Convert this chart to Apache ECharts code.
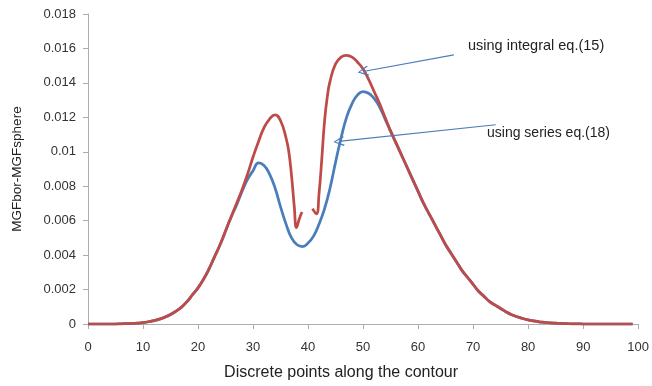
<!DOCTYPE html>
<html>
<head>
<meta charset="utf-8">
<script src="https://cdn.jsdelivr.net/npm/echarts@6/dist/echarts.min.js"></script>
<style>
html,body{margin:0;padding:0;background:#fff;}
#chart{width:652px;height:386px;}
</style>
</head>
<body>
<div id="chart"></div>
<script>
// x positions (discrete points) and values
const blueX = [0,1,2,3,4,5,6,7,8,9,10,11,12,13,14,15,16,17,18,19,20,21,22,23,24,25,26,27,28,29,30,31,32,33,34,35,36,37,38,39,40,41,42,43,44,45,46,47,48,49,50,51,52,53,54,55,56,57,58,59,60,61,62,63,64,65,66,67,68,69,70,71,72,73,74,75,76,77,78,79,80,81,82,83,84,85,86,87,88,89,90,91,92,93,94,95,96,97,98,99];
const blueY = [0,0,0,0,0,0,0.00001,0.00002,0.00003,0.00005,0.00008,0.00013,0.0002,0.00028,0.0004,0.00055,0.00075,0.00098,0.0013,0.0017,0.0021,0.0026,0.0032,0.0039,0.0046,0.0054,0.0062,0.0069,0.0077,0.0084,0.0089,0.00935,0.0092,0.0087,0.0079,0.0068,0.0058,0.0050,0.0046,0.0045,0.0047,0.0051,0.0058,0.0067,0.0079,0.0094,0.0108,0.0120,0.0128,0.0133,0.0135,0.0134,0.0131,0.0126,0.0119,0.0112,0.0105,0.0098,0.0091,0.0084,0.0077,0.0070,0.0064,0.0058,0.0052,0.0046,0.0041,0.0036,0.0031,0.0027,0.0023,0.0019,0.0016,0.0013,0.0011,0.0009,0.0007,0.00054,0.00042,0.00032,0.00024,0.00018,0.00013,0.0001,0.00007,0.00005,0.00003,0.00002,0.00001,0.00001,0,0,0,0,0,0,0,0,0,0];

const redX = [0,1,2,3,4,5,6,7,8,9,10,11,12,13,14,15,16,17,18,19,20,21,22,23,24,25,26,27,28,29,30,31,32,33,34,35,36,36.5,37,37.5,37.9,38.4,38.9,40,40.8,41.5,42,42.5,43,43.5,44,45,46,47,48,49,50,51,52,53,54,55,56,57,58,59,60,61,62,63,64,65,66,67,68,69,70,71,72,73,74,75,76,77,78,79,80,81,82,83,84,85,86,87,88,89,90,91,92,93,94,95,96,97,98,99];
const redY = [0,0,0,0,0,0,0.00001,0.00002,0.00003,0.00005,0.00008,0.00013,0.0002,0.00028,0.0004,0.00055,0.00075,0.00098,0.0013,0.0017,0.0021,0.0026,0.0032,0.0039,0.0046,0.0054,0.0062,0.0070,0.0078,0.0087,0.0097,0.0106,0.0114,0.0119,0.01215,0.0118,0.0108,0.0100,0.0086,0.0068,0.0056,0.0061,0.0065,null,0.0067,0.0064,0.0076,0.0096,0.0118,0.0132,0.0141,0.0151,0.0155,0.0156,0.0155,0.0152,0.0148,0.0142,0.0135,0.0128,0.0120,0.0112,0.0105,0.0098,0.0091,0.0084,0.0077,0.0070,0.0064,0.0058,0.0052,0.0046,0.0041,0.0036,0.0031,0.0027,0.0023,0.0019,0.0016,0.0013,0.0011,0.0009,0.0007,0.00054,0.00042,0.00032,0.00024,0.00018,0.00013,0.0001,0.00007,0.00005,0.00003,0.00002,0.00001,0.00001,0,0,0,0,0,0,0,0,0,0];

// annotation arrows: [tail x, tail y, head x, head y] in data units
const arrowIntegral = [66.5, 0.01563, 50.0, 0.01466];
const arrowSeries = [74.1, 0.01157, 45.6, 0.0106];
const labelIntegral = 'using integral eq.(15)';
const labelSeries = 'using series eq.(18)';

const xTitle = 'Discrete points along the contour';
const yTitle = 'MGFbor-MGFsphere';

function pairs(xs, ys) {
  return xs.map((x, i) => [x, ys[i] === null ? '-' : ys[i]]);
}

const chart = echarts.init(document.getElementById('chart'), null, {renderer: 'canvas'});
const font = 'Liberation Sans';
const axisColor = '#ADADAD';
const arrowPath = 'path://M5,0 L10,9 L9,10 L5,2 L1,10 L0,9 Z';

chart.setOption({
  animation: false,
  backgroundColor: '#ffffff',
  grid: {left: 88, right: 8, top: 14, bottom: 61, containLabel: false},
  xAxis: {
    type: 'value', min: 0, max: 100, interval: 10,
    name: xTitle, nameLocation: 'middle', nameGap: 41,
    nameTextStyle: {fontFamily: font, fontSize: 16, color: '#222', padding: [0, 44, 0, 0]},
    axisLine: {show: true, onZero: false, lineStyle: {color: axisColor, width: 1}},
    axisTick: {show: true, length: 5, inside: false, lineStyle: {color: axisColor}},
    axisLabel: {fontFamily: font, fontSize: 13, color: '#333', margin: 17},
    splitLine: {show: false}
  },
  yAxis: {
    type: 'value', min: 0, max: 0.018, interval: 0.002,
    name: yTitle, nameLocation: 'middle', nameGap: 64, nameRotate: 90,
    nameTextStyle: {fontFamily: font, fontSize: 13.5, color: '#222'},
    axisLine: {show: true, lineStyle: {color: axisColor, width: 1}},
    axisTick: {show: true, length: 5, inside: false, lineStyle: {color: axisColor}},
    axisLabel: {fontFamily: font, fontSize: 13, color: '#333', margin: 12,
      formatter: v => String(+v.toFixed(3))},
    splitLine: {show: false}
  },
  series: [
    {
      name: 'series', type: 'line', data: pairs(blueX, blueY),
      showSymbol: false, symbol: 'none', smooth: 0.5, connectNulls: false,
      lineStyle: {color: '#4A7EBB', width: 2.75},
      itemStyle: {color: '#4A7EBB'},
      z: 2,
      markLine: {
        silent: true, animation: false,
        symbol: ['none', arrowPath], symbolSize: [10, 11],
        label: {show: false},
        lineStyle: {color: '#4A7EBB', width: 1.2, type: 'solid'},
        emphasis: {disabled: true},
        data: [
          [{coord: [arrowIntegral[0], arrowIntegral[1]]}, {coord: [arrowIntegral[2], arrowIntegral[3]]}],
          [{coord: [arrowSeries[0], arrowSeries[1]]}, {coord: [arrowSeries[2], arrowSeries[3]]}]
        ]
      }
    },
    {
      name: 'integral', type: 'line', data: pairs(redX, redY),
      showSymbol: false, symbol: 'none', smooth: 0.5, connectNulls: false,
      lineStyle: {color: '#BE4B48', width: 2.75},
      itemStyle: {color: '#BE4B48'},
      z: 3
    }
  ],
  graphic: [
    {type: 'text', left: 468, top: 38, z: 10,
      style: {text: labelIntegral, fontFamily: font, fontSize: 14.5, fill: '#222'}},
    {type: 'text', left: 487, top: 126, z: 10,
      style: {text: labelSeries, fontFamily: font, fontSize: 14, fill: '#222'}}
  ]
});
</script>
</body>
</html>
